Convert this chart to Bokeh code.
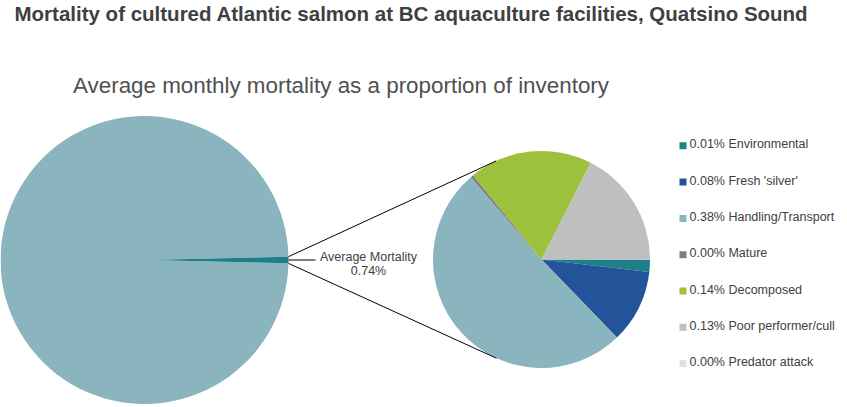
import math
from bokeh.plotting import figure
from bokeh.embed import file_html
from bokeh.resources import INLINE
from bokeh.core.properties import value

# ---- data ----
categories = ["Environmental", "Fresh 'silver'", "Handling/Transport", "Mature",
              "Decomposed", "Poor performer/cull", "Predator attack"]
mortality_pct = [0.0135, 0.081, 0.377, 0.003, 0.136, 0.129, 0.0005]
palette = ["#1F7F89", "#23549A", "#8AB5BE", "#7F7F7F", "#9DC13B", "#BFBFBF", "#D8E5E8"]
title_text = "Mortality of cultured Atlantic salmon at BC aquaculture facilities, Quatsino Sound"
subtitle_text = "Average monthly mortality as a proportion of inventory"
other_label = "Average Mortality"

total_mort = sum(mortality_pct)
survivor_pct = 100.0 - total_mort

# ---- figure ----
W, H = 847, 407
p = figure(width=W, height=H, x_range=(0, W), y_range=(0, H),
           output_backend="svg", toolbar_location=None, min_border=0,
           x_axis_location=None, y_axis_location=None)
p.grid.visible = False
p.outline_line_color = None
p.background_fill_color = "white"
p.border_fill_color = "white"


def Y(sy):
    return H - sy


FONT = value("Liberation Sans")

# big pie
cx1, cy1, r1 = 144.0, Y(259.5), 144.0
half = math.pi * total_mort / 100.0
p.wedge(x=[cx1, cx1], y=[cy1, cy1], radius=r1,
        start_angle=[half, -half], end_angle=[2 * math.pi - half, half],
        fill_color=[palette[2], palette[0]], line_color=None)

# small pie (clockwise from 3 o'clock)
cx2, cy2, r2 = 541.0, Y(259.0), 108.5
cum = 0.0
starts, ends = [], []
for v in mortality_pct:
    a0 = 2 * math.pi * cum / total_mort
    cum += v
    a1 = 2 * math.pi * cum / total_mort
    starts.append(-a1)
    ends.append(-a0)
p.wedge(x=[cx2] * len(mortality_pct), y=[cy2] * len(mortality_pct), radius=r2,
        start_angle=starts, end_angle=ends, fill_color=palette, line_color=None)

# connector lines (tangents from the big-slice edges to the small pie)
for sgn in (1, -1):
    px = cx1 + r1 * math.cos(sgn * half)
    py = cy1 + r1 * math.sin(sgn * half)
    dx, dy = px - cx2, py - cy2
    d = math.hypot(dx, dy)
    base = math.atan2(dy, dx)
    phi = math.acos(r2 / d)
    ang = base - sgn * phi
    tx = cx2 + r2 * math.cos(ang)
    ty = cy2 + r2 * math.sin(ang)
    p.line([px, tx], [py, ty], line_color="black", line_width=1)

# leader line + label
p.line([cx1 + r1, 315], [cy1, cy1], line_color="black", line_width=1)
p.text(x=[368, 368], y=[Y(256), Y(270.5)], text=[other_label, f"{total_mort:.2f}%"],
       text_font=FONT, text_font_size="12.5px", text_color="#404040",
       text_align="center", text_baseline="middle")

# titles
p.text(x=[14], y=[Y(13)], text=[title_text], text_font=FONT, text_font_size="20.5px",
       text_font_style="bold", text_color="#404040", text_align="left",
       text_baseline="middle")
p.text(x=[340.5], y=[Y(85)], text=[subtitle_text], text_font=FONT, text_font_size="22.4px",
       text_color="#505050", text_align="center", text_baseline="middle")

# legend
row0, step = 143.8, 36.3
rows = [row0 + i * step for i in range(len(categories))]
labels = [f"{v:.2f}% {c}" for v, c in zip(mortality_pct, categories)]
p.rect(x=[682.5] * len(rows), y=[Y(r + 1.5) for r in rows], width=7, height=7,
       fill_color=palette, line_color=None)
p.text(x=[689] * len(rows), y=[Y(r) for r in rows], text=labels,
       text_font=FONT, text_font_size="12.5px", text_color="#404040",
       text_align="left", text_baseline="middle")

open("out.html", "w").write(file_html(p, INLINE))
